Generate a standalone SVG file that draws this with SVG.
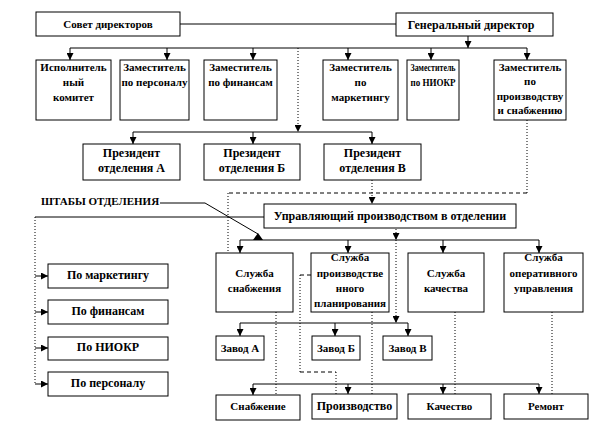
<svg xmlns="http://www.w3.org/2000/svg" width="612" height="432" viewBox="0 0 612 432" font-family="Liberation Serif, Times New Roman, serif">
<defs>
<marker id="arr" markerUnits="userSpaceOnUse" markerWidth="7" markerHeight="7" refX="7" refY="3.5" orient="auto">
<path d="M0,0 L7,3.5 L0,7 z" fill="#000"/>
</marker>
<style>
rect{fill:#fff;stroke:#000;stroke-width:1}
text{font-family:"Liberation Serif","Times New Roman",serif;font-weight:bold;fill:#000;text-anchor:middle}
.s11{font-size:11px}
.s12{font-size:12px}
.ln{fill:none;stroke:#000;stroke-width:1}
.dot{fill:none;stroke:#000;stroke-width:1;stroke-dasharray:1,2}
.dsh{fill:none;stroke:#000;stroke-width:1;stroke-dasharray:4,3}
.a{marker-end:url(#arr)}
</style>
</defs>
<rect width="612" height="432" style="fill:#fff;stroke:none"/>
<g id="connectors">
<path class="ln" d="M180,24 H396"/>
<path class="ln a" d="M468,36 V48"/>
<path class="ln" d="M70,48 H527"/>
<path class="ln a" d="M70,48 V60"/>
<path class="ln a" d="M167,48 V60"/>
<path class="ln a" d="M253,48 V60"/>
<path class="ln a" d="M348,48 V60"/>
<path class="ln a" d="M431,48 V60"/>
<path class="ln a" d="M527,48 V60"/>
<path class="dot a" d="M298,48 V132"/>
<path class="ln" d="M133,132 H372"/>
<path class="ln a" d="M133,132 V144"/>
<path class="ln a" d="M253,132 V144"/>
<path class="ln a" d="M372,132 V144"/>
<path class="dot a" d="M372,180 V204"/>
<path class="dot" d="M527,120 V193"/>
<path class="dsh" d="M527,193 H228"/>
<path class="dot" d="M228,193 V253"/>
<path class="ln" d="M160,203 H205 L258,234"/>
<polygon points="253,240 263,240 258,233" fill="#000"/>
<path class="ln" d="M35,217 H264"/>
<path class="dot" d="M35,217 V384"/>
<path class="ln a" d="M35,276 H48"/>
<path class="ln a" d="M35,312 H48"/>
<path class="ln a" d="M35,348 H48"/>
<path class="ln a" d="M35,384 H48"/>
<path class="ln" d="M240,240 H539"/>
<path class="ln a" d="M240,240 V253"/>
<path class="ln a" d="M348,240 V253"/>
<path class="ln a" d="M443,240 V253"/>
<path class="ln a" d="M539,240 V253"/>
<path class="dot a" d="M396,229 V240"/>
<path class="dot a" d="M396,240 V323"/>
<path class="ln" d="M240,323 H408"/>
<path class="ln a" d="M240,323 V336"/>
<path class="ln a" d="M335,323 V336"/>
<path class="ln a" d="M408,323 V336"/>
<path class="ln" d="M253,384 H539"/>
<path class="ln a" d="M253,384 V395"/>
<path class="ln a" d="M348,384 V394"/>
<path class="ln a" d="M443,384 V394"/>
<path class="ln a" d="M539,384 V394"/>
<path class="dot" d="M276,312 V395"/>
<path class="dot" d="M372,312 V394"/>
<path class="dot" d="M455,312 V394"/>
<path class="dot" d="M552,312 V394"/>
<path class="dsh" d="M311,275 H300"/>
<path class="dot" d="M300,275 V372"/>
<path class="dsh" d="M300,372 H336"/>
<path class="dot" d="M336,372 V394"/>
</g>
<g id="n-sovet"><rect x="36" y="12" width="144" height="24"/><text class="s11" x="108" y="28">Совет директоров</text></g>
<g id="n-gendir"><rect x="396" y="13" width="157" height="23"/><text class="s12" x="471" y="29">Генеральный директор</text></g>
<g id="n-ispkom"><rect x="36" y="60" width="75" height="60"/><text class="s11" x="73.5" y="71">Исполнитель</text><text class="s11" x="73.5" y="86">ный</text><text class="s11" x="73.5" y="101">комитет</text></g>
<g id="n-zam-pers"><rect x="120" y="60" width="69" height="60"/><text class="s11" x="154.5" y="71">Заместитель</text><text class="s11" x="154.5" y="86">по персоналу</text></g>
<g id="n-zam-fin"><rect x="204" y="60" width="73" height="60"/><text class="s11" x="240.5" y="71">Заместитель</text><text class="s11" x="240.5" y="86">по финансам</text></g>
<g id="n-zam-mark"><rect x="323" y="60" width="75" height="60"/><text class="s11" x="360.5" y="71">Заместитель</text><text class="s11" x="360.5" y="86">по</text><text class="s11" x="360.5" y="101">маркетингу</text></g>
<g id="n-zam-niokr"><rect x="407" y="60" width="52" height="60"/><text class="s11" x="433" y="71" textLength="45" lengthAdjust="spacingAndGlyphs">Заместитель</text><text class="s11" x="433" y="86" textLength="45" lengthAdjust="spacingAndGlyphs">по НИОКР</text></g>
<g id="n-zam-proizv"><rect x="494" y="60" width="72" height="60"/><text class="s11" x="530" y="71">Заместитель</text><text class="s11" x="530" y="85">по</text><text class="s11" x="530" y="100">производству</text><text class="s11" x="530" y="114">и снабжению</text></g>
<g id="n-pres-a"><rect x="83" y="144" width="97" height="36"/><text class="s12" x="131.5" y="157">Президент</text><text class="s12" x="131.5" y="172">отделения  А</text></g>
<g id="n-pres-b"><rect x="204" y="144" width="96" height="36"/><text class="s12" x="252" y="157">Президент</text><text class="s12" x="252" y="172">отделения  Б</text></g>
<g id="n-pres-v"><rect x="324" y="144" width="97" height="36"/><text class="s12" x="372.5" y="157">Президент</text><text class="s12" x="372.5" y="172">отделения  В</text></g>
<g id="n-shtaby"><text class="s11" x="100" y="205">ШТАБЫ ОТДЕЛЕНИЯ</text></g>
<g id="n-upr"><rect x="264" y="204" width="252" height="24"/><text class="s12" x="390" y="220">Управляющий производством в отделении</text></g>
<g id="n-po-mark"><rect x="48" y="264" width="120" height="24"/><text class="s12" x="108" y="279">По маркетингу</text></g>
<g id="n-po-fin"><rect x="48" y="300" width="120" height="24"/><text class="s12" x="108" y="315">По финансам</text></g>
<g id="n-po-niokr"><rect x="48" y="337" width="120" height="23"/><text class="s12" x="108" y="351">По НИОКР</text></g>
<g id="n-po-pers"><rect x="48" y="372" width="120" height="24"/><text class="s12" x="108" y="387">По персоналу</text></g>
<g id="n-sl-snab"><rect x="216" y="253" width="77" height="59"/><text class="s11" x="254.5" y="277">Служба</text><text class="s11" x="254.5" y="292">снабжения</text></g>
<g id="n-sl-plan"><rect x="311" y="253" width="78" height="59"/><text class="s11" x="350" y="261">Служба</text><text class="s11" x="350" y="277">производстве</text><text class="s11" x="350" y="292">нного</text><text class="s11" x="350" y="307">планирования</text></g>
<g id="n-sl-kach"><rect x="408" y="253" width="76" height="59"/><text class="s11" x="446" y="277">Служба</text><text class="s11" x="446" y="292">качества</text></g>
<g id="n-sl-oper"><rect x="504" y="253" width="79" height="59"/><text class="s11" x="543.5" y="261">Служба</text><text class="s11" x="543.5" y="277">оперативного</text><text class="s11" x="543.5" y="292">управления</text></g>
<g id="n-zavod-a"><rect x="216" y="336" width="48" height="24"/><text class="s11" x="240" y="352">Завод А</text></g>
<g id="n-zavod-b"><rect x="312" y="336" width="48" height="24"/><text class="s11" x="336" y="352">Завод Б</text></g>
<g id="n-zavod-v"><rect x="383" y="336" width="49" height="24"/><text class="s11" x="407.5" y="352">Завод В</text></g>
<g id="n-snab"><rect x="216" y="395" width="84" height="25"/><text class="s11" x="258" y="410">Снабжение</text></g>
<g id="n-proizv"><rect x="312" y="394" width="85" height="25"/><text class="s12" x="354.5" y="410">Производство</text></g>
<g id="n-kach"><rect x="408" y="394" width="83" height="25"/><text class="s11" x="449.5" y="410">Качество</text></g>
<g id="n-remont"><rect x="504" y="394" width="84" height="25"/><text class="s11" x="546" y="410">Ремонт</text></g>
</svg>
